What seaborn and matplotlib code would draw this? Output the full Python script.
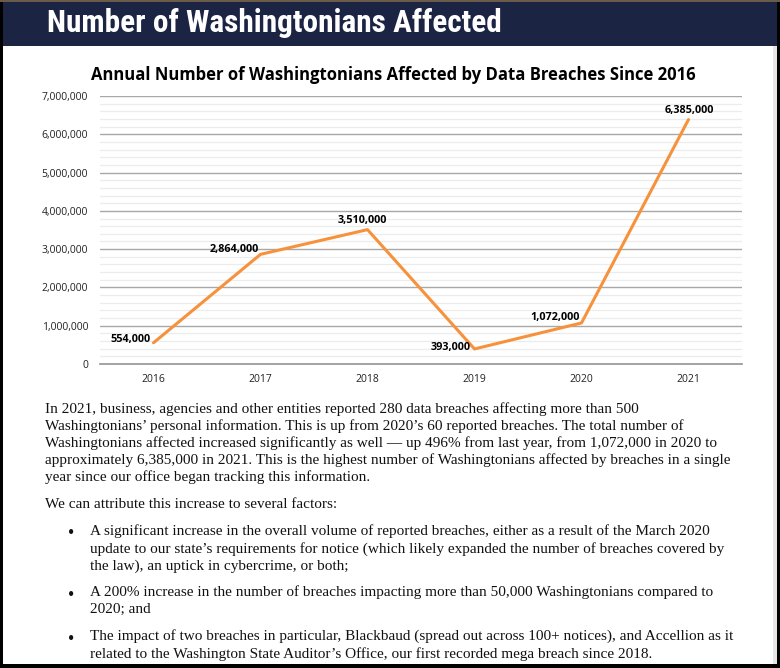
import matplotlib
matplotlib.use("Agg")
import matplotlib.pyplot as plt
import seaborn as sns
import pandas as pd
import numpy as np
from matplotlib.patches import Rectangle
from matplotlib.ticker import MultipleLocator, FuncFormatter

# ---------------- data ----------------
years = ["2016", "2017", "2018", "2019", "2020", "2021"]
affected = [554000, 2864000, 3510000, 393000, 1072000, 6385000]
y_ticks = [0, 1000000, 2000000, 3000000, 4000000, 5000000, 6000000, 7000000]

header_title = "Number of Washingtonians Affected"
chart_title = "Annual Number of Washingtonians Affected by Data Breaches Since 2016"

paragraph_lines = [
    "In 2021, business, agencies and other entities reported 280 data breaches affecting more than 500",
    "Washingtonians\u2019 personal information. This is up from 2020\u2019s 60 reported breaches. The total number of",
    "Washingtonians affected increased significantly as well \u2014 up 496% from last year, from 1,072,000 in 2020 to",
    "approximately 6,385,000 in 2021. This is the highest number of Washingtonians affected by breaches in a single",
    "year since our office began tracking this information.",
]
intro_line = "We can attribute this increase to several factors:"
bullets = [
    ["A significant increase in the overall volume of reported breaches, either as a result of the March 2020",
     "update to our state\u2019s requirements for notice (which likely expanded the number of breaches covered by",
     "the law), an uptick in cybercrime, or both;"],
    ["A 200% increase in the number of breaches impacting more than 50,000 Washingtonians compared to",
     "2020; and"],
    ["The impact of two breaches in particular, Blackbaud (spread out across 100+ notices), and Accellion as it",
     "related to the Washington State Auditor\u2019s Office, our first recorded mega breach since 2018."],
]

# ---------------- layout / style ----------------
W, H = 780, 668
sns.set_theme(style="white")
plt.rcParams['font.family'] = ['Open Sans', 'DejaVu Sans']

fig = plt.figure(figsize=(W / 100, H / 100), dpi=100, facecolor="black")


def rect(x0, y0, x1, y1, color, z=-5):
    fig.patches.append(Rectangle((x0 / W, 1 - y1 / H), (x1 - x0) / W, (y1 - y0) / H,
                                 transform=fig.transFigure, facecolor=color,
                                 edgecolor="none", zorder=z))


def ax_box(x0, y0, x1, y1):
    return [x0 / W, 1 - y1 / H, (x1 - x0) / W, (y1 - y0) / H]


rect(0, 0, W, 2, "#6b5a48")
rect(3, 2, 777, 664, "white")
rect(3, 2, 777, 46, "#1c2444")
rect(773, 46, 777, 664, "#e6e6e6")

fig.text(47 / W, 1 - 23 / H, header_title, color="white", fontsize=22.5,
         fontweight="bold", family=["Roboto Condensed", "Liberation Sans Narrow", "Roboto", "DejaVu Sans"],
         ha="left", va="center")

fig.text(393 / W, 1 - 75 / H, chart_title, color="black", fontsize=12,
         fontweight="bold", ha="center", va="center")

ax = fig.add_axes(ax_box(100, 96, 742, 364))
ax.patch.set_alpha(0)
df = pd.DataFrame({"Year": years, "Affected": affected})
sns.lineplot(data=df, x="Year", y="Affected", ax=ax, color="#F7923C",
             linewidth=2.2, sort=False)

ax.set_xlim(-0.5, len(years) - 0.5)
ax.set_ylim(0, y_ticks[-1])
ax.set_yticks(y_ticks)
ax.yaxis.set_major_formatter(FuncFormatter(lambda v, p: f"{int(v):,}"))
ax.yaxis.set_minor_locator(MultipleLocator(200000))
ax.grid(axis="y", which="major", color="#a8a8a8", lw=1.0)
ax.grid(axis="y", which="minor", color="#ececec", lw=0.9)
ax.grid(axis="x", which="both", visible=False)
ax.set_axisbelow(True)
ax.set_xticks(np.arange(-0.5, len(years), 1), minor=True)
ax.tick_params(axis="x", which="major", length=0, pad=7, labelsize=7.5, labelcolor="#222")
ax.tick_params(axis="x", which="minor", length=4, color="#999", width=0.8, direction="out")
ax.tick_params(axis="y", which="both", length=0, pad=8.5, labelsize=7.5, labelcolor="#222")
for s in ["top", "right", "left"]:
    ax.spines[s].set_visible(False)
ax.spines["bottom"].set_color("#999")
ax.set_xlabel("")
ax.set_ylabel("")

label_layout = [(-3, 3, "right"), (-2, 5, "right"), (-5, 9, "center"),
                (-4, 1, "right"), (-2, 5, "right"), (1, 9, "center")]
for i, (v, (dx, dy, ha)) in enumerate(zip(affected, label_layout)):
    ax.annotate(f"{v:,}", (i, v), xytext=(dx * 0.72, dy * 0.72), textcoords="offset points",
                ha=ha, va="center", fontsize=7.8, fontweight="bold", color="black")

serif = ["Liberation Serif", "DejaVu Serif"]
fs = 11
para_y = [409, 426, 443, 460, 477]
for y, line in zip(para_y, paragraph_lines):
    fig.text(45 / W, 1 - y / H, line, family=serif, fontsize=fs, ha="left", va="center", color="#111")
fig.text(45 / W, 1 - 505 / H, intro_line, family=serif, fontsize=fs, ha="left", va="center", color="#111")

bullet_y = [[531, 549, 566], [592, 609], [636, 654]]
for ys, lines in zip(bullet_y, bullets):
    fig.text(68 / W, 1 - (ys[0] + 3) / H, "\u2022", family=serif, fontsize=fs + 2, ha="left", va="center", color="#111")
    for y, line in zip(ys, lines):
        fig.text(90 / W, 1 - y / H, line, family=serif, fontsize=fs, ha="left", va="center", color="#111")

fig.savefig("out.png", dpi=100, facecolor="black")
